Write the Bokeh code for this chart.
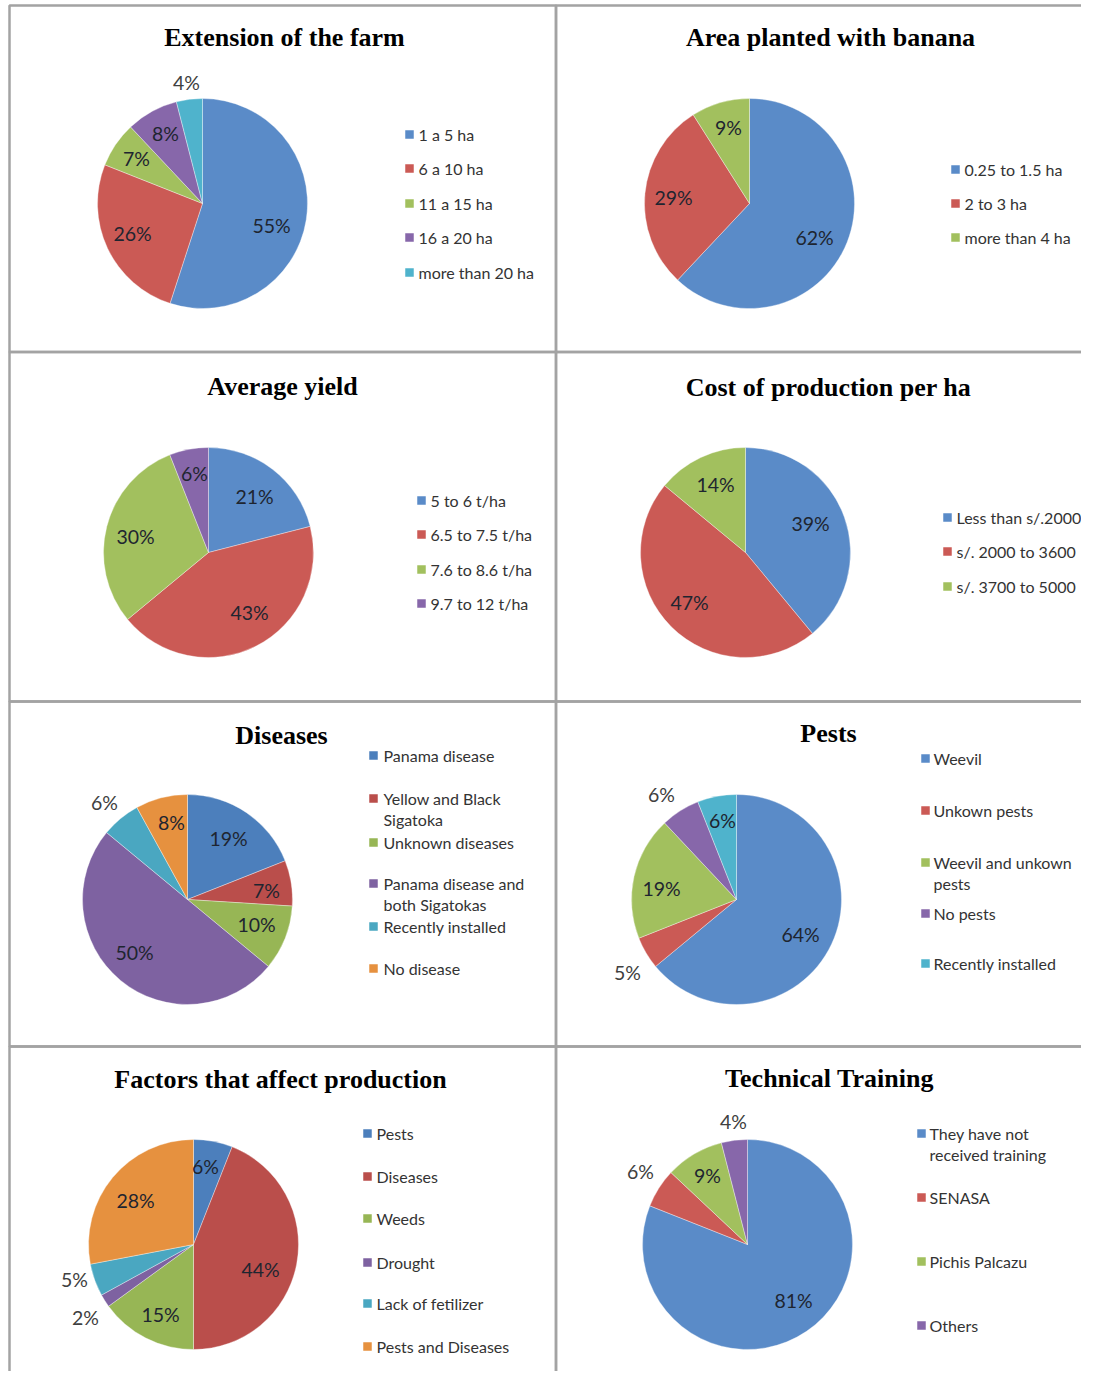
import numpy as np
from bokeh.plotting import figure
from bokeh.models import Range1d, ColumnDataSource
from bokeh.core.properties import value
from bokeh.embed import file_html
from bokeh.resources import INLINE

# ---------------- data ----------------
farm_titles = "Extension of the farm"
farm_cats = ["1 a 5 ha", "6 a 10 ha", "11 a 15 ha", "16 a 20 ha", "more than 20 ha"]
farm_vals = [55, 26, 7, 8, 4]

area_title = "Area planted with banana"
area_cats = ["0.25 to 1.5 ha", "2 to 3 ha", "more than 4 ha"]
area_vals = [62, 29, 9]

yield_title = "Average yield"
yield_cats = ["5 to 6 t/ha", "6.5 to 7.5 t/ha", "7.6 to 8.6 t/ha", "9.7 to 12 t/ha"]
yield_vals = [21, 43, 30, 6]

cost_title = "Cost of production per ha"
cost_cats = ["Less than s/.2000", "s/. 2000 to 3600", "s/. 3700 to 5000"]
cost_vals = [39, 47, 14]

dis_title = "Diseases"
dis_cats = ["Panama disease", "Yellow and Black\nSigatoka", "Unknown diseases",
            "Panama disease and\nboth Sigatokas", "Recently installed", "No disease"]
dis_vals = [19, 7, 10, 50, 6, 8]

pest_title = "Pests"
pest_cats = ["Weevil", "Unkown pests", "Weevil and unkown\npests", "No pests", "Recently installed"]
pest_vals = [64, 5, 19, 6, 6]

fac_title = "Factors that affect production"
fac_cats = ["Pests", "Diseases", "Weeds", "Drought", "Lack of fetilizer", "Pests and Diseases"]
fac_vals = [6, 44, 15, 2, 5, 28]

tech_title = "Technical Training"
tech_cats = ["They have not\nreceived training", "SENASA", "Pichis Palcazu", "Others"]
tech_vals = [81, 6, 9, 4]

# ---------------- styles / layout ----------------
PAL_L = ["#5A8BC8", "#CB5A55", "#A2C05E", "#8767AA", "#4FB3CC", "#F79646"]
PAL_D = ["#4C7FBC", "#BA4E4B", "#97B655", "#7E62A1", "#4AA7C1", "#E6913F"]

panels = [
    dict(title=farm_titles, cats=farm_cats, vals=farm_vals, pal=PAL_L,
         t=(284, 37), c=(202, 203), r=105,
         lab=[(271, 225), (132, 233), (136, 158), (165, 133), (186, 82)],
         out=[0, 0, 0, 0, 1], sq=409, tx=418, ly=[134, 168, 203, 237, 272]),
    dict(title=area_title, cats=area_cats, vals=area_vals, pal=PAL_L,
         t=(830, 37), c=(749, 203), r=105,
         lab=[(814, 237), (673, 197), (728, 127)],
         out=[0, 0, 0], sq=955, tx=964, ly=[169, 203, 237]),
    dict(title=yield_title, cats=yield_cats, vals=yield_vals, pal=PAL_L,
         t=(282, 386), c=(208, 552), r=105,
         lab=[(254, 496), (249, 612), (135, 536), (194, 473)],
         out=[0, 0, 0, 0], sq=421, tx=430, ly=[500, 534, 569, 603]),
    dict(title=cost_title, cats=cost_cats, vals=cost_vals, pal=PAL_L,
         t=(828, 387), c=(745, 552), r=105,
         lab=[(810, 523), (689, 602), (715, 484)],
         out=[0, 0, 0], sq=947, tx=956, ly=[517, 551, 586]),
    dict(title=dis_title, cats=dis_cats, vals=dis_vals, pal=PAL_D,
         t=(281, 735), c=(187, 899), r=105,
         lab=[(228, 838), (266, 890), (256, 924), (134, 952), (104, 802), (171, 822)],
         out=[0, 0, 0, 0, 1, 0], sq=373, tx=383, ly=[755, 798, 842, 883, 926, 968]),
    dict(title=pest_title, cats=pest_cats, vals=pest_vals, pal=PAL_L,
         t=(828, 733), c=(736, 899), r=105,
         lab=[(800, 934), (627, 972), (661, 888), (661, 794), (722, 820)],
         out=[0, 1, 0, 1, 0], sq=925, tx=933, ly=[758, 810, 862, 913, 963]),
    dict(title=fac_title, cats=fac_cats, vals=fac_vals, pal=PAL_D,
         t=(280, 1079), c=(193, 1244), r=105,
         lab=[(205, 1166), (260, 1269), (160, 1314), (85, 1317), (74, 1279), (135, 1200)],
         out=[0, 0, 0, 1, 1, 0], sq=367, tx=376, ly=[1133, 1176, 1218, 1262, 1303, 1346]),
    dict(title=tech_title, cats=tech_cats, vals=tech_vals, pal=PAL_L,
         t=(829, 1078), c=(747, 1244), r=105,
         lab=[(793, 1300), (640, 1171), (707, 1175), (733, 1121)],
         out=[0, 1, 0, 1], sq=921, tx=929, ly=[1133, 1197, 1261, 1325]),
]

W, H = 1081, 1371
p = figure(width=W, height=H, x_range=Range1d(0, W), y_range=Range1d(-H, 0),
           output_backend="svg", toolbar_location=None, min_border=0,
           x_axis_location=None, y_axis_location=None, outline_line_color=None)
p.grid.visible = False
p.background_fill_color = "white"

# panel borders
bx0 = [9, 555.5, 9, 555.5, 9, 555.5, 9, 555.5]
bx1 = [555.5, 1110, 555.5, 1110, 555.5, 1110, 555.5, 1110]
by0 = [5, 5, 351.5, 351.5, 701, 701, 1046, 1046]
by1 = [351.5, 351.5, 701, 701, 1046, 1046, 1420, 1420]
p.quad(left=bx0, right=bx1, top=[-v for v in by0], bottom=[-v for v in by1],
       fill_color=None, line_color="#A3A3A3", line_width=2.5)

LAB_FONT = value("Lato")
for pn in panels:
    vals = np.array(pn["vals"], dtype=float)
    frac = vals / vals.sum()
    cum = np.concatenate([[0], np.cumsum(frac)])
    start = np.pi / 2 - 2 * np.pi * cum[:-1]
    end = np.pi / 2 - 2 * np.pi * cum[1:]
    n = len(vals)
    cx, cy = pn["c"]
    src = ColumnDataSource(dict(x=[cx] * n, y=[-cy] * n, s=start, e=end,
                                col=pn["pal"][:n]))
    p.wedge(x="x", y="y", radius=pn["r"], start_angle="s", end_angle="e",
            direction="clock", fill_color="col", line_color="white",
            line_width=0.6, line_alpha=0.6, source=src)

    # data labels
    lx = [q[0] for q in pn["lab"]]
    ly = [-q[1] for q in pn["lab"]]
    txt = ["%d%%" % v for v in pn["vals"]]
    tcol = ["#404040" if o else "#1E2530" for o in pn["out"]]
    p.text(x=lx, y=ly, text=txt, text_color=tcol, text_font=LAB_FONT,
           text_font_size="19.5px", text_align="center", text_baseline="middle")

    # title
    p.text(x=[pn["t"][0]], y=[-pn["t"][1]], text=[pn["title"]], text_font=value("Liberation Serif"),
           text_font_style="bold", text_font_size="26px", text_color="#000000",
           text_align="center", text_baseline="middle")

    # legend
    sqx, sqy, sqc = [], [], []
    tx, ty, tt = [], [], []
    for i, cat in enumerate(pn["cats"]):
        y0 = pn["ly"][i]
        sqx.append(pn["sq"])
        sqy.append(-y0)
        sqc.append(pn["pal"][i])
        for k, line in enumerate(cat.split("\n")):
            tx.append(pn["tx"])
            ty.append(-(y0 + 21 * k))
            tt.append(line)
    p.rect(x=sqx, y=sqy, width=8.5, height=8.5, fill_color=sqc, line_color=None)
    p.text(x=tx, y=ty, text=tt, text_font=LAB_FONT, text_font_size="16px",
           text_color="#333333", text_align="left", text_baseline="middle")

open("out.html", "w").write(file_html(p, INLINE))
